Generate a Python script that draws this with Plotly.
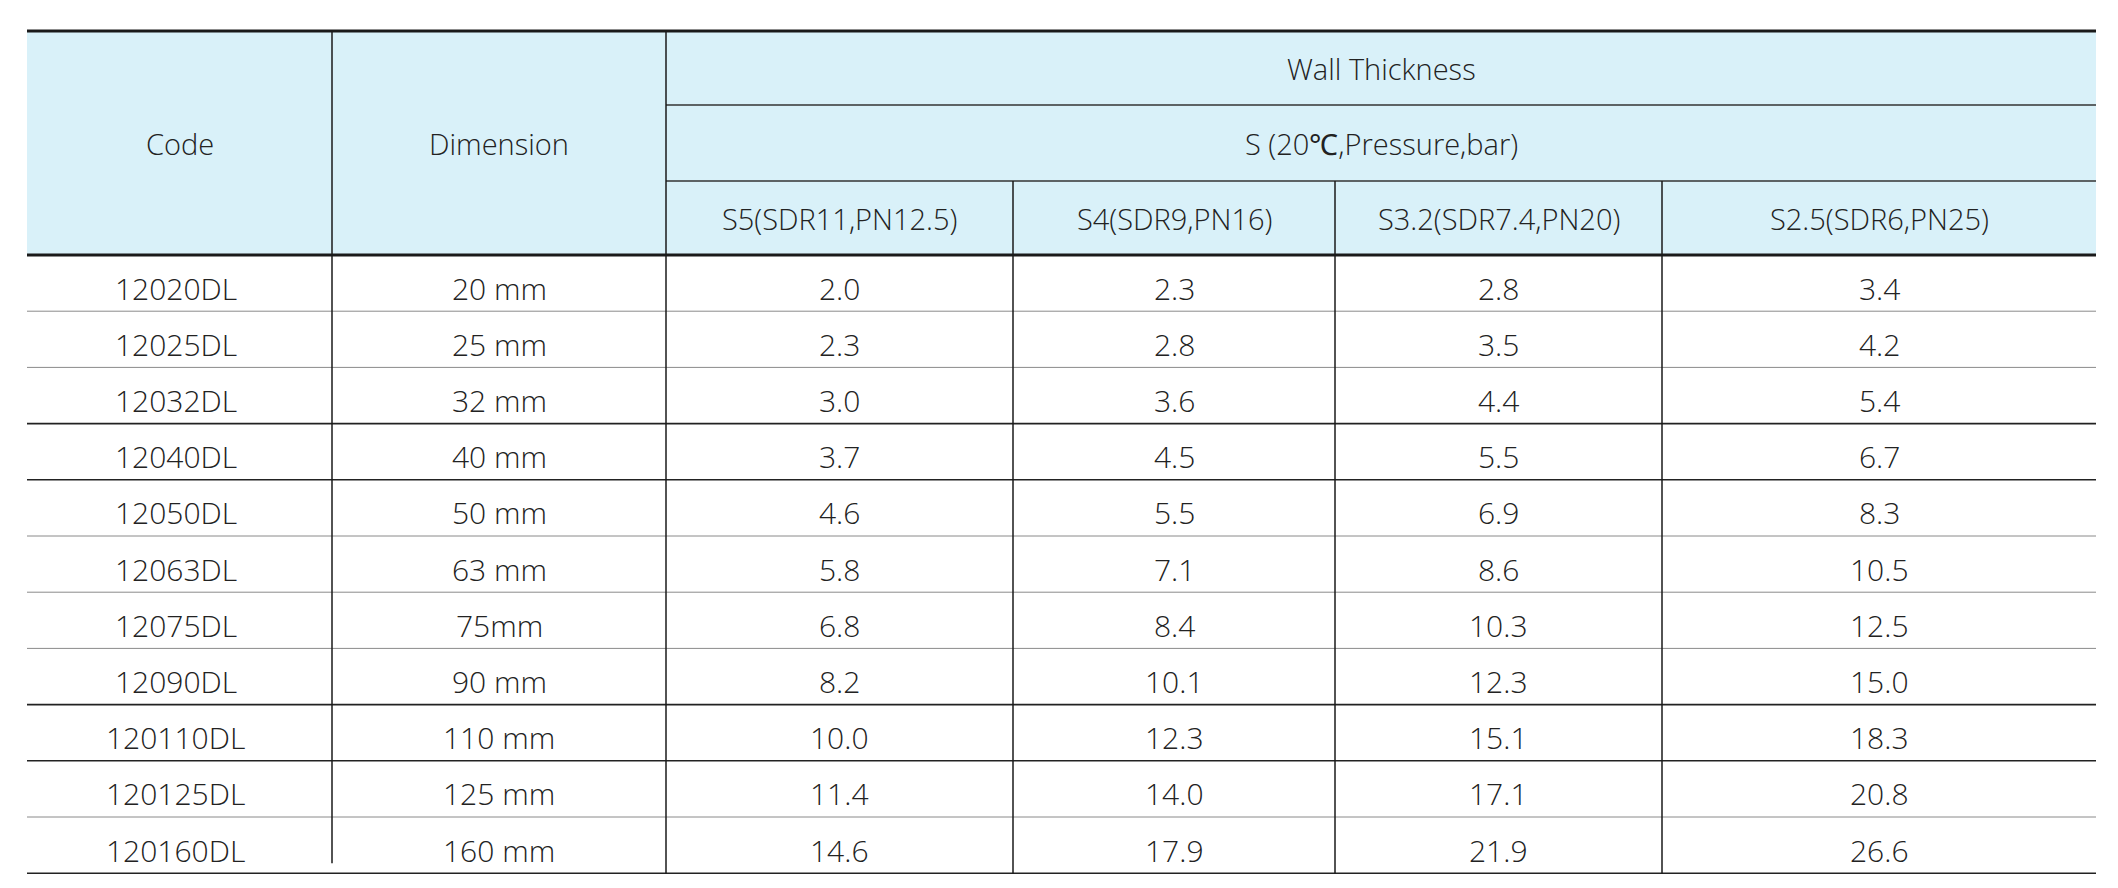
import plotly.graph_objects as go

codes = ["12020DL", "12025DL", "12032DL", "12040DL", "12050DL", "12063DL",
         "12075DL", "12090DL", "120110DL", "120125DL", "120160DL"]
dimensions = ["20 mm", "25 mm", "32 mm", "40 mm", "50 mm", "63 mm",
              "75mm", "90 mm", "110 mm", "125 mm", "160 mm"]
s5 = ["2.0", "2.3", "3.0", "3.7", "4.6", "5.8", "6.8", "8.2", "10.0", "11.4", "14.6"]
s4 = ["2.3", "2.8", "3.6", "4.5", "5.5", "7.1", "8.4", "10.1", "12.3", "14.0", "17.9"]
s32 = ["2.8", "3.5", "4.4", "5.5", "6.9", "8.6", "10.3", "12.3", "15.1", "17.1", "21.9"]
s25 = ["3.4", "4.2", "5.4", "6.7", "8.3", "10.5", "12.5", "15.0", "18.3", "20.8", "26.6"]
series_headers = ["S5(SDR11,PN12.5)", "S4(SDR9,PN16)", "S3.2(SDR7.4,PN20)", "S2.5(SDR6,PN25)"]
group_title = "Wall Thickness"
sub_title = "S (20℃,Pressure,bar)"

# layout (pixels)
col_edges = [19, 324, 658, 1005, 1327, 1654, 2088]
head_edges = [23, 97, 173, 247]
row_h = 56.2
dark_after = [3, 4, 8, 9]  # body rows followed by a dark rule
FONT = "Open Sans"
HEAD_BG = "#d9f1f9"
TXT = "#222222"

W, H = 2118, 888
fig = go.Figure()
shapes, ann = [], []

def line(x0, y0, x1, y1, color, width):
    shapes.append(dict(type="line", x0=x0, y0=y0, x1=x1, y1=y1, xref="x", yref="y",
                       line=dict(color=color, width=width)))

def text(x, y, s, size=30):
    ann.append(dict(x=x, y=y, text=s, xref="x", yref="y", showarrow=False,
                    font=dict(family=FONT, size=size, color=TXT, weight=300)))

L, R = col_edges[0], col_edges[-1]
top, h1, h2, hb = head_edges
nrows = len(codes)
bottom = hb + row_h * nrows

shapes.append(dict(type="rect", x0=L, x1=R, y0=top, y1=hb, xref="x", yref="y",
                   fillcolor=HEAD_BG, line=dict(width=0), layer="below"))

# header text
text((col_edges[0] + col_edges[1]) / 2, (top + hb) / 2, "Code", 29)
text((col_edges[1] + col_edges[2]) / 2, (top + hb) / 2, "Dimension", 29)
text((col_edges[2] + R) / 2, (top + h1) / 2, group_title, 29)
text((col_edges[2] + R) / 2, (h1 + h2) / 2, sub_title, 29)
for i, s in enumerate(series_headers):
    text((col_edges[2 + i] + col_edges[3 + i]) / 2, (h2 + hb) / 2, s, 29)

# body text
columns = [codes, dimensions, s5, s4, s32, s25]
for r in range(nrows):
    yc = hb + row_h * (r + 0.5) + 5
    for c, col in enumerate(columns):
        xc = (col_edges[c] + col_edges[c + 1]) / 2
        text(xc - (4 if c == 0 else 0), yc, col[r])

# rules
line(L, top, R, top, "#1a1a1a", 3)
line(col_edges[2], h1, R, h1, "#333333", 1.5)
line(col_edges[2], h2, R, h2, "#333333", 1.5)
line(L, hb, R, hb, "#1a1a1a", 3)
for r in range(1, nrows + 1):
    y = hb + row_h * r
    dark = r in dark_after or r == nrows
    line(L, y, R, y, "#222222" if dark else "#8a8a8a", 1.6 if dark else 1)
for i, x in enumerate(col_edges[1:-1]):
    y0 = h2 if i >= 2 else top
    y1 = bottom - 10 if i == 0 else bottom
    line(x, y0, x, y1, "#1a1a1a", 1.5)

fig.update_layout(width=W, height=H, margin=dict(l=0, r=0, t=0, b=0),
                  paper_bgcolor="white", plot_bgcolor="white",
                  shapes=shapes, annotations=ann, showlegend=False)
fig.update_xaxes(range=[0, W], visible=False, fixedrange=True)
fig.update_yaxes(range=[H, 0], visible=False, fixedrange=True)
fig.write_html("out.html")
